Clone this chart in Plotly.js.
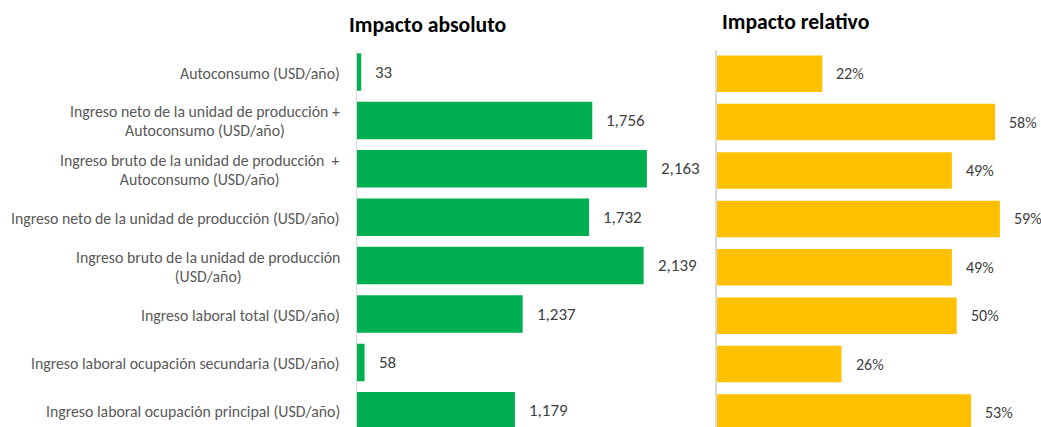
<!DOCTYPE html>
<html>
<head>
<meta charset="utf-8">
<script src="https://cdn.plot.ly/plotly-3.0.1.min.js"></script>
<style>
html,body{margin:0;padding:0;background:#fff;}
#chart{width:1041px;height:427px;}
</style>
</head>
<body>
<div id="chart"></div>
<script>
var categories = [
  "Autoconsumo (USD/año)",
  "Ingreso neto de la unidad de producción +<br>Autoconsumo (USD/año)",
  "Ingreso bruto de la unidad de producción  +<br>Autoconsumo (USD/año)",
  "Ingreso neto de la unidad de producción (USD/año)",
  "Ingreso bruto de la unidad de producción<br>(USD/año)",
  "Ingreso laboral total (USD/año)",
  "Ingreso laboral ocupación secundaria (USD/año)",
  "Ingreso laboral ocupación principal (USD/año)"
];
var absoluteImpact = [33, 1756, 2163, 1732, 2139, 1237, 58, 1179];
var relativeImpact = [22, 58, 49, 59, 49, 50, 26, 53];
var panelTitles = ["Impacto absoluto", "Impacto relativo"];

var W = 1041, H = 427;
var FONT = "Calibri, Carlito, Lato, sans-serif";
var idx = categories.map(function(_, i){ return i; });

function fmtThousands(v){ return v.toLocaleString('en-US'); }

var traces = [
  {
    type: 'bar', orientation: 'h',
    x: absoluteImpact, y: idx,
    xaxis: 'x', yaxis: 'y',
    width: 0.775,
    marker: {color: '#00B050', line: {width: 0}},
    hoverinfo: 'none'
  },
  {
    type: 'bar', orientation: 'h',
    x: relativeImpact, y: idx,
    xaxis: 'x2', yaxis: 'y2',
    width: 0.755,
    marker: {color: '#FFC000', line: {width: 0}},
    hoverinfo: 'none'
  }
];

var leftX0 = 356.8, leftX1 = 700, leftScale = 0.1341;
var rightX0 = 716.7, rightX1 = 1041, rightScale = 4.8;
var plotTop = 50;

var annotations = [];
// category labels: smaller base font gives tight Excel-like line spacing, glyphs drawn at 15.8px
categories.forEach(function(c, i){
  var txt = c.split('<br>').map(function(line){
    return '<span style="font-size:15.8px">' + line + '</span>';
  }).join('<br>');
  annotations.push({
    xref: 'paper', yref: 'y', x: leftX0 / W, y: i,
    xanchor: 'right', yanchor: 'middle', xshift: -15, yshift: -1, align: 'center',
    text: txt, showarrow: false,
    font: {family: FONT, size: 14.6, color: '#595959'}
  });
});
absoluteImpact.forEach(function(v, i){
  annotations.push({
    xref: 'x', yref: 'y', x: v, y: i,
    xanchor: 'left', yanchor: 'middle', xshift: 12,
    text: fmtThousands(v), showarrow: false,
    font: {family: FONT, size: 17, color: '#404040'}
  });
});
relativeImpact.forEach(function(v, i){
  annotations.push({
    xref: 'x2', yref: 'y2', x: v, y: i,
    xanchor: 'left', yanchor: 'middle', xshift: 12,
    text: v + '%', showarrow: false,
    font: {family: FONT, size: 16, color: '#404040'}
  });
});
annotations.push({
  xref: 'paper', yref: 'paper', x: 427 / W, y: 1 - 25 / H,
  xanchor: 'center', yanchor: 'middle', text: '<b>' + panelTitles[0] + '</b>',
  showarrow: false, font: {family: FONT, size: 21.7, color: '#000000'}
});
annotations.push({
  xref: 'paper', yref: 'paper', x: 795 / W, y: 1 - 21 / H,
  xanchor: 'center', yanchor: 'middle', text: '<b>' + panelTitles[1] + '</b>',
  showarrow: false, font: {family: FONT, size: 21.7, color: '#000000'}
});

var g0 = 72, g1 = 73.7, step = 48.4;
var layout = {
  width: W, height: H,
  margin: {l: 0, r: 0, t: 0, b: 0, pad: 0},
  paper_bgcolor: '#ffffff', plot_bgcolor: '#ffffff',
  showlegend: false,
  font: {family: FONT},
  xaxis: {
    domain: [leftX0 / W, leftX1 / W],
    range: [0, (leftX1 - leftX0) / leftScale],
    showgrid: false, zeroline: false, showticklabels: false, showline: false, fixedrange: true
  },
  yaxis: {
    domain: [0, 1 - plotTop / H],
    range: [(H - g0) / step, -(g0 - plotTop) / step],
    showgrid: false, zeroline: false, showticklabels: false,
    showline: true, linecolor: '#d9d9d9', linewidth: 1.3, fixedrange: true
  },
  xaxis2: {
    domain: [rightX0 / W, rightX1 / W],
    range: [0, (rightX1 - rightX0) / rightScale],
    anchor: 'y2',
    showgrid: false, zeroline: false, showticklabels: false, showline: false, fixedrange: true
  },
  yaxis2: {
    domain: [0, 1 - plotTop / H],
    range: [(H - g1) / step, -(g1 - plotTop) / step],
    anchor: 'x2',
    showgrid: false, zeroline: false, showticklabels: false,
    showline: true, linecolor: '#d9d9d9', linewidth: 1.3, fixedrange: true
  },
  annotations: annotations
};

Plotly.newPlot('chart', traces, layout, {displayModeBar: false, staticPlot: true});
</script>
</body>
</html>
